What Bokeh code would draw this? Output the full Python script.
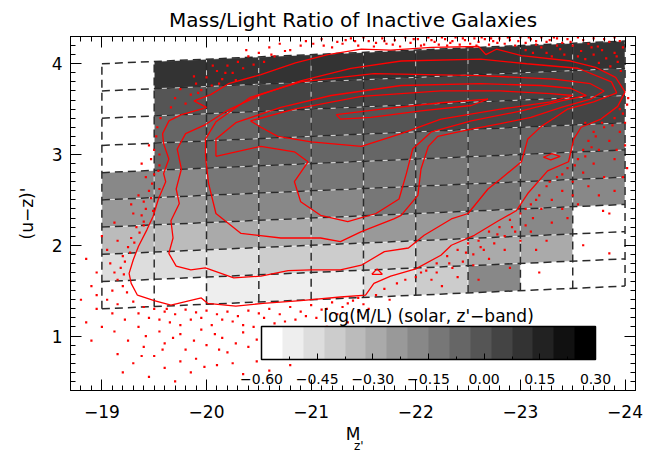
import math

from bokeh.plotting import figure
from bokeh.models import (Range1d, LinearAxis, SingleIntervalTicker, FixedTicker, ColorBar,
                          LinearColorMapper, ColumnDataSource, Label, CustomJSTickFormatter)
from bokeh.embed import file_html
from bokeh.resources import INLINE

# ---------------------------------------------------------------- binning
# magnitude columns (M_z') and colour rows; rows are tilted along the red sequence
mag_edges = [-19.0, -19.5, -20.0, -20.5, -21.0, -21.5, -22.0, -22.5, -23.0, -23.5, -24.0]
color_edges = [1.3, 1.6, 1.9, 2.2, 2.5, 2.8, 3.1, 3.4, 3.7, 4.0]   # (u-z)' at M_z' = -19
row_tilt = 0.05                                                      # colour shift per magnitude

nan = float("nan")
# log(M/L) in each cell, one list per colour row (bottom row first), bright columns last
ml_row0 = [nan, nan, -0.52, -0.52, -0.51, -0.46, -0.40, -0.18, nan, nan]
ml_row1 = [-0.46, -0.46, -0.45, -0.40, -0.40, -0.39, -0.35, -0.29, -0.29, nan]
ml_row2 = [-0.35, -0.35, -0.29, -0.29, -0.28, -0.23, -0.23, -0.23, -0.18, nan]
ml_row3 = [-0.23, -0.23, -0.18, -0.18, -0.17, -0.12, -0.12, -0.12, -0.18, -0.18]
ml_row4 = [-0.18, -0.18, -0.12, -0.12, -0.12, -0.12, -0.11, -0.12, -0.12, -0.12]
ml_row5 = [nan, -0.07, -0.07, -0.07, -0.07, -0.07, -0.07, -0.06, -0.07, -0.07]
ml_row6 = [nan, -0.07, -0.07, -0.01, -0.01, -0.01, 0.05, 0.05, 0.05, 0.05]
ml_row7 = [nan, -0.01, -0.01, 0.05, 0.05, 0.05, 0.05, 0.05, 0.05, 0.05]
ml_row8 = [nan, 0.10, 0.10, 0.10, 0.10, 0.10, 0.10, 0.10, 0.10, 0.10]
ml_rows = [ml_row0, ml_row1, ml_row2, ml_row3, ml_row4, ml_row5, ml_row6, ml_row7, ml_row8]

# colour bar scale
ml_low, ml_high = -0.60, 0.30
n_levels = 16
cbar_ticks = [-0.60, -0.45, -0.30, -0.15, 0.00, 0.15, 0.30]
cbar_minor = [-0.525, -0.375, -0.225, -0.075, 0.075, 0.225]

# ---------------------------------------------------------------- galaxy density contours
contour_1 = [(-19.34, 1.45), (-19.28, 1.58), (-19.26, 1.69), (-19.30, 1.84), (-19.35, 1.99),
             (-19.43, 2.17), (-19.49, 2.32), (-19.54, 2.51), (-19.61, 2.70), (-19.59, 2.79),
             (-19.64, 2.95), (-19.59, 3.12), (-19.58, 3.23), (-19.64, 3.37), (-19.76, 3.44),
             (-19.95, 3.50), (-20.00, 3.52), (-19.88, 3.59), (-20.04, 3.66), (-20.21, 3.78),
             (-20.52, 3.88), (-20.85, 4.01), (-21.16, 4.10), (-21.48, 4.16), (-21.76, 4.15),
             (-22.15, 4.18), (-22.60, 4.19), (-22.67, 4.10), (-22.77, 4.16), (-23.01, 4.09),
             (-23.48, 4.03), (-23.72, 3.96), (-23.91, 3.85), (-24.00, 3.69), (-23.93, 3.53),
             (-23.77, 3.39), (-23.58, 3.30), (-23.51, 3.17), (-23.46, 2.92), (-23.26, 2.82),
             (-23.07, 2.57), (-22.96, 2.38), (-22.79, 2.27), (-22.56, 2.11), (-22.34, 2.00),
             (-22.24, 1.89), (-22.00, 1.74), (-21.76, 1.66), (-21.60, 1.58), (-21.52, 1.45),
             (-21.28, 1.43), (-20.90, 1.39), (-20.54, 1.36), (-20.28, 1.33), (-20.01, 1.36),
             (-19.95, 1.42), (-19.66, 1.34), (-19.50, 1.39), (-19.34, 1.45)]
contour_2 = [(-19.71, 1.77), (-19.64, 1.91), (-19.68, 2.08), (-19.66, 2.27), (-19.74, 2.46),
             (-19.71, 2.62), (-19.76, 2.84), (-19.72, 3.06), (-19.80, 3.23), (-19.99, 3.33),
             (-20.19, 3.48), (-20.52, 3.66), (-20.90, 3.81), (-21.38, 3.95), (-21.86, 4.03),
             (-22.62, 4.05), (-23.06, 4.00), (-23.55, 3.95), (-23.87, 3.80), (-23.92, 3.68),
             (-23.70, 3.58), (-23.45, 3.50), (-23.32, 3.40), (-23.20, 3.31), (-23.07, 3.17),
             (-23.01, 2.92), (-22.81, 2.73), (-22.69, 2.62), (-22.50, 2.35), (-22.34, 2.29),
             (-22.08, 2.11), (-21.93, 1.97), (-21.70, 1.93), (-21.48, 1.78), (-21.28, 1.73),
             (-21.00, 1.73), (-20.78, 1.72), (-20.52, 1.66), (-20.26, 1.64), (-19.99, 1.75),
             (-19.85, 1.73), (-19.71, 1.77)]
contour_3 = [(-19.99, 2.98), (-20.02, 2.68), (-20.09, 2.35), (-20.33, 2.13), (-20.71, 2.08),
             (-21.09, 2.08), (-21.28, 2.04), (-21.48, 2.15), (-21.79, 2.29), (-21.86, 2.33),
             (-22.02, 2.55), (-22.05, 2.84), (-22.12, 3.09), (-22.21, 3.20), (-22.53, 3.28),
             (-22.81, 3.34), (-23.10, 3.41), (-23.39, 3.52), (-23.67, 3.61), (-23.80, 3.70),
             (-23.67, 3.78), (-23.32, 3.83), (-22.62, 3.87), (-21.60, 3.89), (-20.90, 3.80),
             (-20.42, 3.63), (-20.09, 3.36), (-19.99, 3.17), (-19.99, 2.98)]
contour_4 = [(-20.09, 2.98), (-20.52, 3.09), (-20.84, 3.03), (-20.97, 2.92), (-20.84, 2.70),
             (-20.90, 2.48), (-21.09, 2.33), (-21.35, 2.26), (-21.62, 2.35), (-21.84, 2.51),
             (-21.91, 2.79), (-21.97, 3.06), (-22.15, 3.25), (-22.53, 3.37), (-23.01, 3.48),
             (-23.39, 3.59), (-23.63, 3.65), (-23.48, 3.73), (-23.20, 3.76), (-22.62, 3.78),
             (-21.86, 3.76), (-21.19, 3.65), (-20.71, 3.52), (-20.28, 3.35), (-20.09, 3.17),
             (-20.09, 2.98)]
contour_5 = [(-20.42, 3.37), (-20.84, 3.50), (-21.48, 3.64), (-22.24, 3.70), (-22.81, 3.70),
             (-23.29, 3.67), (-23.50, 3.65), (-23.29, 3.58), (-22.81, 3.50), (-22.24, 3.39),
             (-21.86, 3.23), (-21.48, 3.09), (-21.00, 3.14), (-20.68, 3.20), (-20.52, 3.30),
             (-20.42, 3.37)]
contour_6 = [(-21.24, 3.44), (-21.67, 3.50), (-22.24, 3.57), (-22.69, 3.61), (-22.53, 3.54),
             (-22.05, 3.48), (-21.57, 3.41), (-21.28, 3.39), (-21.24, 3.44)]
contour_islands = [
    [(-23.22, 2.97), (-23.30, 3.01), (-23.38, 2.98), (-23.29, 2.94), (-23.22, 2.97)],
    [(-21.58, 1.68), (-21.63, 1.74), (-21.68, 1.68), (-21.58, 1.68)],
]

# ---------------------------------------------------------------- galaxies outside the lowest contour
outliers = [
    # above the red sequence
    (-20.62, 4.10), (-20.75, 4.14), (-20.90, 4.20), (-21.02, 4.22), (-21.10, 4.27), (-21.20, 4.18),
    (-21.30, 4.22), (-21.38, 4.28), (-21.45, 4.20), (-21.55, 4.25), (-21.60, 4.19), (-21.68, 4.28),
    (-21.72, 4.22), (-21.80, 4.26), (-21.85, 4.19), (-21.90, 4.29), (-21.95, 4.23), (-22.02, 4.27),
    (-22.08, 4.21), (-22.12, 4.29), (-22.18, 4.24), (-22.22, 4.21), (-22.28, 4.27), (-22.33, 4.23),
    (-22.38, 4.29), (-22.42, 4.21), (-22.47, 4.26), (-22.52, 4.22), (-22.56, 4.28), (-22.60, 4.24),
    (-22.66, 4.27), (-22.70, 4.21), (-22.74, 4.25), (-22.80, 4.28), (-22.85, 4.22), (-22.90, 4.26),
    (-22.95, 4.20), (-23.00, 4.29), (-23.05, 4.23), (-23.10, 4.27), (-23.15, 4.25), (-23.20, 4.29),
    (-23.28, 4.26), (-23.35, 4.28), (-23.45, 4.27), (-23.55, 4.29), (-23.70, 4.28), (-23.90, 4.29),
    (-21.25, 4.24), (-21.50, 4.29), (-22.25, 4.29), (-22.90, 4.29),
    (-21.42, 4.25), (-21.62, 4.23), (-21.78, 4.21), (-21.98, 4.27), (-22.05, 4.20), (-22.15, 4.26),
    (-22.30, 4.20), (-22.45, 4.28), (-22.58, 4.20), (-22.63, 4.29), (-22.78, 4.23), (-22.88, 4.29),
    (-22.98, 4.25), (-23.08, 4.29), (-23.25, 4.24), (-23.32, 4.29), (-23.48, 4.24), (-23.60, 4.26),
    (-23.80, 4.27), (-23.95, 4.25), (-21.12, 4.20), (-21.33, 4.26), (-20.95, 4.25), (-21.70, 4.25),
    (-22.35, 4.25), (-22.72, 4.28),
    (-23.05, 4.15), (-23.12, 4.12), (-23.20, 4.18), (-23.25, 4.12), (-23.30, 4.08), (-23.38, 4.16),
    (-23.42, 4.10), (-23.50, 4.20), (-23.55, 4.08), (-23.58, 4.14), (-23.62, 4.05), (-23.68, 4.18),
    (-23.70, 4.10), (-23.75, 4.01), (-23.78, 4.15), (-23.82, 4.06), (-23.86, 3.97), (-23.90, 4.12),
    (-23.93, 4.02), (-23.96, 3.92), (-23.98, 4.18), (-23.65, 4.22), (-23.85, 4.24), (-23.40, 4.23),
    (-23.15, 4.21), (-23.35, 4.20), (-23.92, 4.08), (-23.74, 4.19),
    (-19.70, 3.62), (-19.75, 3.72), (-19.85, 3.66), (-19.90, 3.78), (-19.95, 3.71), (-20.00, 3.85),
    (-20.05, 3.76), (-20.10, 3.92), (-20.15, 3.83), (-20.20, 3.98), (-20.25, 3.90), (-20.30, 4.02),
    (-20.35, 3.95), (-20.40, 4.08), (-20.45, 3.99), (-20.50, 4.12), (-20.55, 4.02), (-20.60, 4.18),
    (-20.65, 4.08), (-20.70, 4.22), (-20.80, 4.15), (-19.66, 3.52), (-19.80, 3.56), (-19.92, 3.68),
    (-20.12, 3.78), (-20.28, 3.82), (-20.06, 3.98), (-19.88, 3.86), (-20.18, 3.90), (-20.38, 4.15),
    # faint edge
    (-19.52, 3.20), (-19.50, 3.05), (-19.55, 2.88), (-19.47, 2.95), (-19.50, 2.78), (-19.48, 2.68),
    (-19.45, 2.60), (-19.47, 2.52), (-19.40, 2.48), (-19.42, 2.40), (-19.38, 2.33), (-19.40, 2.26),
    (-19.33, 2.20), (-19.36, 2.14), (-19.28, 2.08), (-19.31, 2.03), (-19.25, 1.98), (-19.27, 1.92),
    (-19.20, 1.88), (-19.22, 1.82), (-19.18, 1.75), (-19.21, 1.68), (-19.15, 1.62), (-19.20, 1.55),
    (-19.10, 1.50), (-19.24, 1.48), (-19.55, 3.00), (-19.54, 2.82), (-19.49, 2.38), (-19.12, 2.25),
    (-19.05, 1.95), (-18.95, 1.70), (-18.90, 1.55), (-19.00, 2.10), (-19.35, 2.55), (-19.28, 2.45),
    (-19.42, 2.75), (-19.45, 3.10), (-19.53, 3.30), (-19.56, 3.40), (-19.38, 2.90), (-19.30, 2.35),
    (-19.15, 2.05), (-19.08, 1.80), (-18.85, 1.85), (-18.95, 1.45), (-18.80, 1.40), (-19.40, 2.22),
    (-19.55, 2.62), (-19.12, 1.70),
    # blue side
    (-19.30, 1.38), (-19.40, 1.32), (-19.50, 1.30), (-19.60, 1.27), (-19.70, 1.24), (-19.80, 1.29),
    (-19.90, 1.26), (-20.00, 1.28), (-20.10, 1.24), (-20.20, 1.27), (-20.30, 1.22), (-20.40, 1.28),
    (-20.50, 1.25), (-20.60, 1.30), (-20.70, 1.24), (-20.80, 1.32), (-20.90, 1.27), (-21.00, 1.34),
    (-21.10, 1.29), (-21.20, 1.37), (-21.30, 1.32), (-21.40, 1.39), (-21.50, 1.35), (-21.62, 1.45),
    (-21.70, 1.52), (-21.82, 1.58), (-19.45, 1.20), (-19.65, 1.15), (-19.85, 1.18), (-20.05, 1.12),
    (-20.25, 1.16), (-20.45, 1.10), (-20.65, 1.14), (-20.85, 1.18), (-21.05, 1.20), (-21.25, 1.24),
    (-21.45, 1.27), (-19.35, 1.10), (-19.55, 1.05), (-19.75, 1.02), (-19.95, 1.07), (-20.15, 0.98),
    (-20.35, 1.04), (-20.55, 0.98), (-20.75, 1.05), (-20.95, 1.08), (-21.15, 1.10), (-19.25, 0.95),
    (-19.40, 0.88), (-19.60, 0.92), (-19.80, 0.85), (-20.00, 0.90), (-20.20, 0.82), (-20.40, 0.88),
    (-20.60, 0.80), (-20.90, 0.90), (-21.10, 0.95), (-19.15, 0.80), (-19.50, 0.78), (-19.90, 0.75),
    (-19.30, 0.70), (-19.60, 0.65), (-19.85, 0.60), (-20.10, 0.68), (-20.35, 0.58), (-19.45, 0.55),
    (-20.60, 0.62), (-19.20, 0.60), (-19.75, 0.72), (-19.05, 1.40), (-18.95, 1.30), (-19.10, 1.25),
    (-18.85, 1.15), (-19.00, 1.10), (-19.15, 1.35), (-18.90, 0.95), (-21.35, 1.15), (-21.55, 1.30),
    (-21.75, 1.40), (-21.30, 1.02), (-21.00, 0.78), (-20.25, 0.70), (-19.70, 0.50), (-20.80, 0.68),
    (-19.35, 1.25), (-19.55, 1.18), (-19.75, 1.12), (-19.95, 1.20), (-20.15, 1.18), (-20.35, 1.12),
    (-20.55, 1.20), (-20.75, 1.16), (-20.95, 1.22), (-21.15, 1.30), (-21.35, 1.36), (-19.42, 1.00),
    (-19.68, 0.98), (-19.88, 0.95), (-20.08, 1.02), (-20.28, 0.92), (-20.48, 0.96), (-19.22, 1.18),
    (-19.58, 0.85), (-20.12, 0.85), (-19.38, 0.78), (-19.98, 0.66), (-20.48, 0.72), (-19.12, 1.05),
    (-19.62, 1.30), (-21.45, 1.42),
    # bright blue edge
    (-21.90, 1.62), (-22.00, 1.65), (-22.10, 1.72), (-22.20, 1.80), (-22.15, 1.62), (-22.30, 1.88),
    (-22.35, 1.75), (-22.40, 1.95), (-22.45, 1.82), (-22.50, 2.02), (-22.55, 1.90), (-22.60, 2.05),
    (-22.65, 1.95), (-22.70, 2.15), (-22.75, 2.02), (-22.80, 2.20), (-22.85, 2.10), (-22.90, 2.28),
    (-22.95, 2.15), (-23.00, 2.35), (-23.05, 2.22), (-23.10, 2.45), (-23.12, 2.30), (-23.18, 2.55),
    (-23.20, 2.40), (-23.25, 2.65), (-23.30, 2.50), (-23.35, 2.75), (-23.40, 2.60), (-23.45, 2.85),
    (-23.50, 2.70), (-23.55, 2.95), (-23.60, 2.80), (-23.60, 3.05), (-23.65, 3.15), (-23.70, 2.90),
    (-23.70, 3.25), (-23.75, 3.05), (-23.80, 3.30), (-23.85, 3.15), (-23.90, 3.40), (-23.95, 3.25),
    (-23.98, 3.45), (-24.00, 3.10), (-23.90, 2.95), (-23.80, 2.75), (-23.55, 2.45), (-23.30, 2.25),
    (-23.00, 2.05), (-22.70, 1.85), (-22.40, 1.65), (-23.15, 1.95), (-23.45, 2.30), (-23.75, 2.55),
    (-22.90, 1.75), (-23.60, 2.00), (-23.90, 2.60), (-22.25, 1.55), (-22.60, 1.62), (-24.02, 2.85),
    (-23.85, 2.35), (-23.85, 1.91), (-23.79, 2.38), (-23.18, 1.70), (-24.02, 3.55), (-23.62, 3.35),
    (-24.03, 3.62),
    (-22.05, 1.70), (-22.20, 1.70), (-22.32, 1.80), (-22.48, 1.92), (-22.62, 1.98), (-22.78, 2.12),
    (-22.92, 2.20), (-23.05, 2.40), (-23.15, 2.50), (-23.28, 2.70), (-23.40, 2.78), (-23.52, 2.88),
    (-23.62, 2.98), (-23.68, 3.08), (-23.72, 3.20), (-23.78, 3.35), (-23.88, 3.32), (-23.95, 3.50),
    (-24.00, 3.35), (-23.92, 3.05), (-23.65, 2.65), (-23.40, 2.40), (-23.10, 2.15), (-22.85, 1.95),
    (-22.55, 1.78), (-23.25, 2.05), (-23.50, 2.55), (-23.98, 2.75),
]

# ---------------------------------------------------------------- figure
FONT = "DejaVu Sans"
p = figure(width=667, height=455, output_backend="svg", toolbar_location=None,
           x_range=Range1d(-18.7, -24.1), y_range=Range1d(0.4, 4.3),
           min_border_left=70, min_border_right=32, min_border_top=36, min_border_bottom=62,
           x_axis_type=None, y_axis_type=None)
p.title.text = "Mass/Light Ratio of Inactive Galaxies"
p.title.align = "center"
p.title.text_font = FONT
p.title.text_font_size = "20px"
p.title.text_font_style = "normal"
p.title.text_color = "black"
p.title.standoff = 9
p.grid.visible = False
p.outline_line_color = "black"
p.outline_line_width = 1
p.background_fill_color = "white"

minus_fmt = CustomJSTickFormatter(code="return (tick < 0 ? '\\u2212' : '') + Math.abs(tick).toFixed(0);")
cbar_fmt = CustomJSTickFormatter(code="return (tick < -1e-9 ? '\\u2212' : '') + Math.abs(tick).toFixed(2);")


def make_axis(show_labels, **kw):
    ax = LinearAxis(ticker=SingleIntervalTicker(interval=1, num_minor_ticks=10), formatter=minus_fmt, **kw)
    ax.axis_line_color = "black"
    ax.major_tick_in = 11
    ax.major_tick_out = 0
    ax.minor_tick_in = 5
    ax.minor_tick_out = 0
    ax.major_tick_line_color = "black"
    ax.minor_tick_line_color = "black"
    ax.axis_label_text_color = "black"
    if show_labels:
        ax.major_label_text_font = FONT
        ax.major_label_text_font_size = "17px"
        ax.major_label_text_color = "black"
    else:
        ax.major_label_text_font_size = "0px"
        ax.major_label_text_color = None
        ax.major_label_standoff = 0
    return ax


# bottom axis carries the magnitude label "M"; a bare axis below it adds the z' subscript
xb = make_axis(True, axis_label="M")
xb.major_label_standoff = 14
xb.axis_label_text_font = FONT
xb.axis_label_text_font_size = "17px"
xb.axis_label_text_font_style = "normal"
xb.axis_label_standoff = 3
p.add_layout(xb, "below")

xsub = LinearAxis(ticker=FixedTicker(ticks=[]), axis_label="\u00a0\u00a0\u00a0z'")
xsub.axis_line_color = None
xsub.major_tick_line_color = None
xsub.minor_tick_line_color = None
xsub.major_label_text_color = None
xsub.major_label_text_font_size = "0px"
xsub.major_label_standoff = 0
xsub.axis_label_text_font = FONT
xsub.axis_label_text_font_size = "12px"
xsub.axis_label_text_font_style = "normal"
xsub.axis_label_text_color = "black"
xsub.axis_label_standoff = -8
p.add_layout(xsub, "below")

yl = make_axis(True, axis_label="(u\u2212z)'")
yl.major_label_standoff = 8
yl.axis_label_text_font = FONT
yl.axis_label_text_font_size = "17px"
yl.axis_label_text_font_style = "normal"
yl.axis_label_standoff = 12
p.add_layout(yl, "left")
p.add_layout(make_axis(False), "above")
p.add_layout(make_axis(False), "right")

# ---------------------------------------------------------------- cells
palette = ["#%02x%02x%02x" % ((round(255 * (1 - i / (n_levels - 1))),) * 3) for i in range(n_levels)]
mapper = LinearColorMapper(palette=palette, low=ml_low, high=ml_high, nan_color="white")


def row_edge(j, m):
    return color_edges[j] + row_tilt * (mag_edges[0] - m)


cell_xs, cell_ys, cell_val = [], [], []
for j, row in enumerate(ml_rows):
    for i, v in enumerate(row):
        if math.isnan(v):
            continue
        m0, m1 = mag_edges[i], mag_edges[i + 1]
        cell_xs.append([m0, m1, m1, m0])
        cell_ys.append([row_edge(j, m0), row_edge(j, m1), row_edge(j + 1, m1), row_edge(j + 1, m0)])
        cell_val.append(v)

p.patches("xs", "ys", source=ColumnDataSource(dict(xs=cell_xs, ys=cell_ys, val=cell_val)),
          fill_color={"field": "val", "transform": mapper},
          line_color="white", line_alpha=0.55, line_width=1)

# dashed bin boundaries
top_j = len(color_edges) - 1
grid_xs, grid_ys = [], []
for m in mag_edges:
    grid_xs.append([m, m])
    grid_ys.append([row_edge(0, m), row_edge(top_j, m)])
for j in range(len(color_edges)):
    grid_xs.append([mag_edges[0], mag_edges[-1]])
    grid_ys.append([row_edge(j, mag_edges[0]), row_edge(j, mag_edges[-1])])
p.multi_line(grid_xs, grid_ys, line_color="#2a2a2a", line_width=1.5, line_dash="8 5")

# contours
all_contours = [contour_1, contour_2, contour_3, contour_4, contour_5, contour_6] + contour_islands
p.multi_line([[pt[0] for pt in c] for c in all_contours],
             [[pt[1] for pt in c] for c in all_contours],
             line_color="#ff0000", line_width=1.3)

# outlying galaxies
p.scatter([pt[0] for pt in outliers], [pt[1] for pt in outliers], marker="square", size=2.2,
          fill_color="#ff0000", line_color=None)

# ---------------------------------------------------------------- colour bar
cbar = ColorBar(color_mapper=mapper, orientation="horizontal", width=334, height=33,
                location=(191, 4), padding=0,
                ticker=FixedTicker(ticks=cbar_ticks, minor_ticks=cbar_minor), formatter=cbar_fmt,
                major_label_text_font=FONT, major_label_text_font_size="14px",
                major_label_text_color="black", label_standoff=14,
                major_tick_in=6, major_tick_out=0, major_tick_line_color="black",
                minor_tick_in=3, minor_tick_out=0, minor_tick_line_color="black",
                bar_line_color="black", bar_line_width=1.5,
                background_fill_alpha=0, border_line_alpha=0)
p.add_layout(cbar, "center")

p.add_layout(Label(x=358, y=75, x_units="screen", y_units="screen", text="log(M/L) (solar, z'\u2212band)",
                   text_align="center", text_baseline="middle", text_font=FONT,
                   text_font_size="17px", text_color="black"))

open("out.html", "w").write(file_html(p, INLINE))
